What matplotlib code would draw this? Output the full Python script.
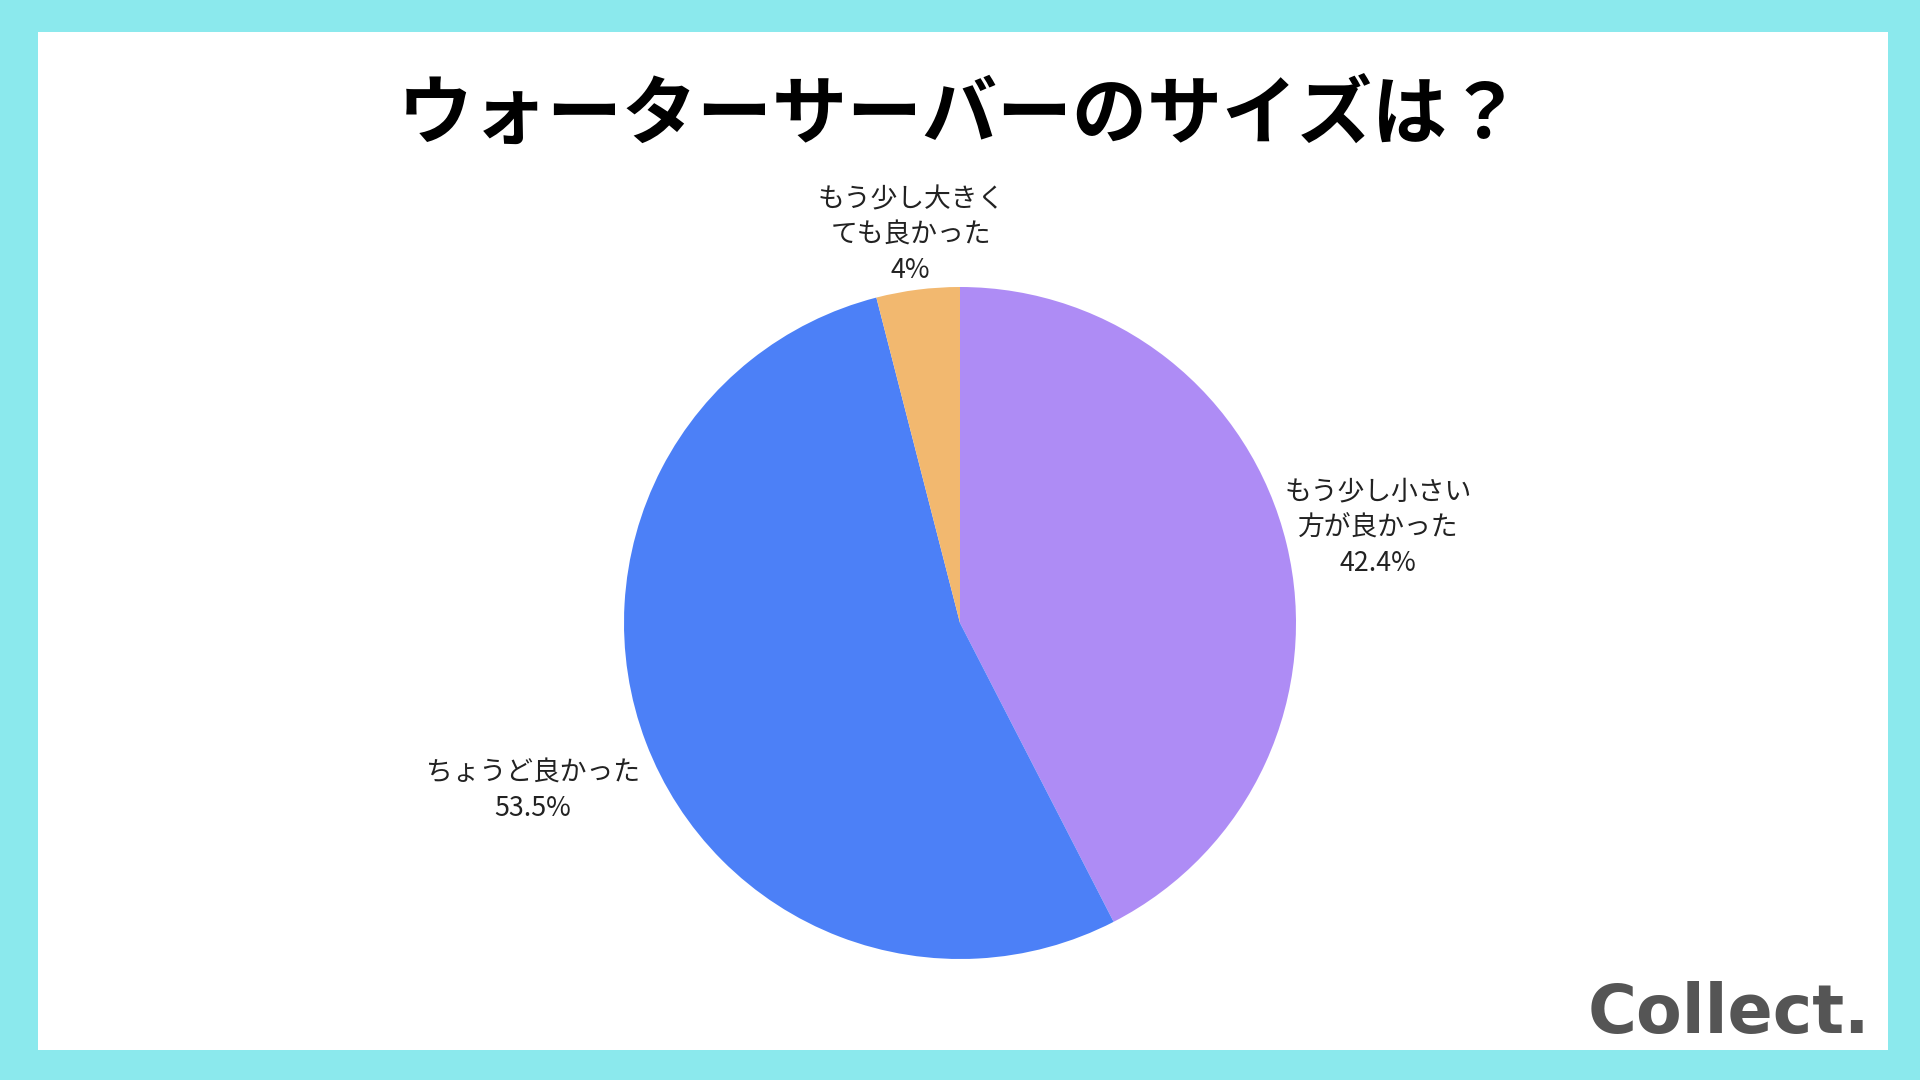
import matplotlib
matplotlib.use("Agg")
import matplotlib.pyplot as plt
import numpy as np
from matplotlib.patches import Rectangle

plt.rcParams['font.family'] = ['Noto Sans CJK JP', 'DejaVu Sans']

# data
labels = ["もう少し小さい\n方が良かった", "ちょうど良かった", "もう少し大きく\nても良かった"]
values = [42.4, 53.5, 4.0]
pct_text = ["42.4%", "53.5%", "4%"]
colors = ["#ae8cf5", "#4c80f7", "#f2b86f"]
title = "ウォーターサーバーのサイズは？"

W, H = 1920, 1080
fig = plt.figure(figsize=(19.2, 10.8), dpi=100)
fig.patch.set_facecolor("#8be9ed")
ax = fig.add_axes([0, 0, 1, 1])

# white card inside the cyan frame
ax.add_patch(Rectangle((38, 30), 1888 - 38, 1048 - 30, facecolor="white", edgecolor="none", zorder=0))

cx, cy, r = 960, H - 623, 336
wedges, _ = ax.pie(values, colors=colors, startangle=90, counterclock=False,
                   center=(cx, cy), radius=r, frame=True,
                   wedgeprops=dict(linewidth=0))
ax.set_xlim(0, W)
ax.set_ylim(0, H)
ax.set_aspect("equal")
ax.axis("off")

# label distances per slice (fraction of radius) and small vertical nudges
dists = [1.28, 1.36, 1.17]
nudge = [-6, -5, -2]
for w, lab, pct, d, dy in zip(wedges, labels, pct_text, dists, nudge):
    ang = np.deg2rad((w.theta1 + w.theta2) / 2)
    x = cx + d * r * np.cos(ang)
    y = cy + d * r * np.sin(ang) + dy
    ax.text(x, y, lab + "\n" + pct, ha="center", va="center", fontsize=19.3,
            linespacing=1.4, color="#222222", zorder=5)

ax.text(W / 2, H - 117, title, ha="center", va="center", fontsize=54,
        fontweight="bold", color="black")

ax.text(1870, H - 1014, "Collect.", ha="right", va="center", fontsize=48,
        fontweight="bold", color="#555555", family=["DejaVu Sans"])

fig.savefig("out.png", dpi=100, facecolor=fig.get_facecolor())
